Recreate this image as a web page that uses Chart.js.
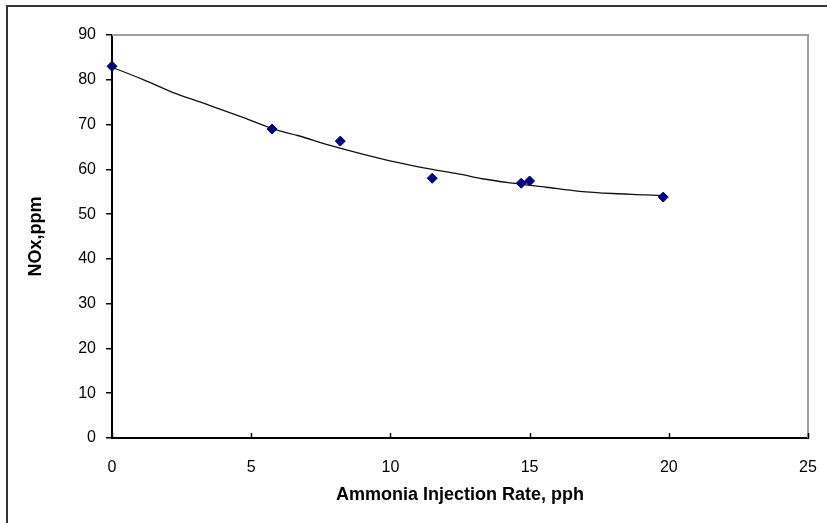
<!DOCTYPE html>
<html>
<head>
<meta charset="utf-8">
<script src="https://cdn.jsdelivr.net/npm/chart.js@4/dist/chart.umd.min.js"></script>
<style>
body { margin: 0; background: #fff; }
#wrap { width: 827px; height: 523px; }
</style>
</head>
<body>
<div id="wrap"><canvas id="nox" width="827" height="523"></canvas></div>
<script>
// measured points
var rateX = [0, 5.75, 8.2, 11.5, 14.7, 15.0, 19.8];
var noxY = [83.0, 69.0, 66.3, 58.0, 56.9, 57.4, 53.8];

// trendline
var trendX = [0, 1.1, 2.3, 3.5, 4.7, 5.9, 6.7, 7.8, 9.0, 10.2, 11.4, 12.6, 13.3, 14.4, 15.6, 16.8, 18.0, 19.2, 19.8];
var trendY = [82.8, 80.1, 76.9, 74.3, 71.6, 68.8, 67.5, 65.4, 63.4, 61.6, 60.1, 58.8, 57.9, 56.9, 56.0, 55.1, 54.6, 54.3, 54.1];

var xTicks = [0, 5, 10, 15, 20, 25];
var yTicks = [0, 10, 20, 30, 40, 50, 60, 70, 80, 90];

Chart.defaults.font.family = "'Liberation Sans', Arial, sans-serif";
Chart.defaults.color = '#000';

var frame = {
 id: 'frame',
 beforeDraw: function(chart) {
  var c = chart.ctx;
  c.save();
  c.strokeStyle = '#333';
  c.lineWidth = 2;
  c.beginPath();
  c.moveTo(7, 523);
  c.lineTo(7, 6);
  c.lineTo(827, 6);
  c.stroke();
  c.restore();
 },
 beforeDatasetsDraw: function(chart) {
  var a = chart.chartArea, c = chart.ctx;
  c.save();
  c.strokeStyle = '#a0a0a0';
  c.lineWidth = 2;
  c.beginPath();
  c.moveTo(a.left, a.top);
  c.lineTo(a.right, a.top);
  c.lineTo(a.right, a.bottom);
  c.stroke();
  // x ticks point inward
  var xs = chart.scales.x;
  c.strokeStyle = '#000';
  c.lineWidth = 1.5;
  xTicks.forEach(function(v) {
   var px = Math.round(xs.getPixelForValue(v)) + 0.5;
   c.beginPath();
   c.moveTo(px, a.bottom);
   c.lineTo(px, a.bottom - 5);
   c.stroke();
  });
  c.restore();
 }
};

var config = {
type: 'scatter',
data: {
 datasets: [{
  label: 'NOx',
  data: rateX.map(function(x, i) { return {x: x, y: noxY[i]}; }),
  pointStyle: 'rectRot',
  pointRadius: 5,
  backgroundColor: '#000080',
  borderColor: '#000080',
  borderWidth: 1,
  clip: false
 }, {
  label: 'Trend',
  data: trendX.map(function(x, i) { return {x: x, y: trendY[i]}; }),
  showLine: true,
  pointRadius: 0,
  borderColor: '#111',
  borderWidth: 1.3,
  tension: 0.4,
  cubicInterpolationMode: 'monotone',
  clip: false
 }]
},
options: {
 responsive: false,
 animation: false,
 layout: { padding: { top: 35, right: 19, bottom: 0, left: 0 } },
 plugins: {
  legend: { display: false },
  tooltip: { enabled: false }
 },
 scales: {
  x: {
   type: 'linear',
   min: 0,
   max: 25,
   afterBuildTicks: function(s) { s.ticks = xTicks.map(function(v) { return {value: v}; }); },
   afterFit: function(s) { s.height = 85; s.paddingLeft = 0; s.paddingRight = 0; },
   ticks: { padding: 20, font: { size: 16 }, color: '#000' },
   grid: { display: false, drawTicks: false },
   border: { display: true, color: '#000', width: 2 },
   title: {
    display: true,
    text: 'Ammonia Injection Rate, pph',
    font: { size: 18, weight: 'bold' },
    color: '#000',
    padding: { top: 0, bottom: 17 }
   }
  },
  y: {
   type: 'linear',
   min: 0,
   max: 90,
   afterBuildTicks: function(s) { s.ticks = yTicks.map(function(v) { return {value: v}; }); },
   afterFit: function(s) { s.width = 112; },
   ticks: { padding: 10, font: { size: 16 }, color: '#000' },
   grid: { display: true, drawOnChartArea: false, drawTicks: true, tickLength: 6, color: '#000', lineWidth: 1.5 },
   border: { display: true, color: '#000', width: 2 },
   title: {
    display: true,
    text: 'NOx,ppm',
    font: { size: 18, weight: 'bold' },
    color: '#000',
    padding: { top: 25, bottom: 0 }
   }
  }
 }
},
plugins: [frame]
};

window.onload = function() {
var ctx = document.getElementById('nox').getContext('2d');
window.noxChart = new Chart(ctx, config);
};
</script>
</body>
</html>
